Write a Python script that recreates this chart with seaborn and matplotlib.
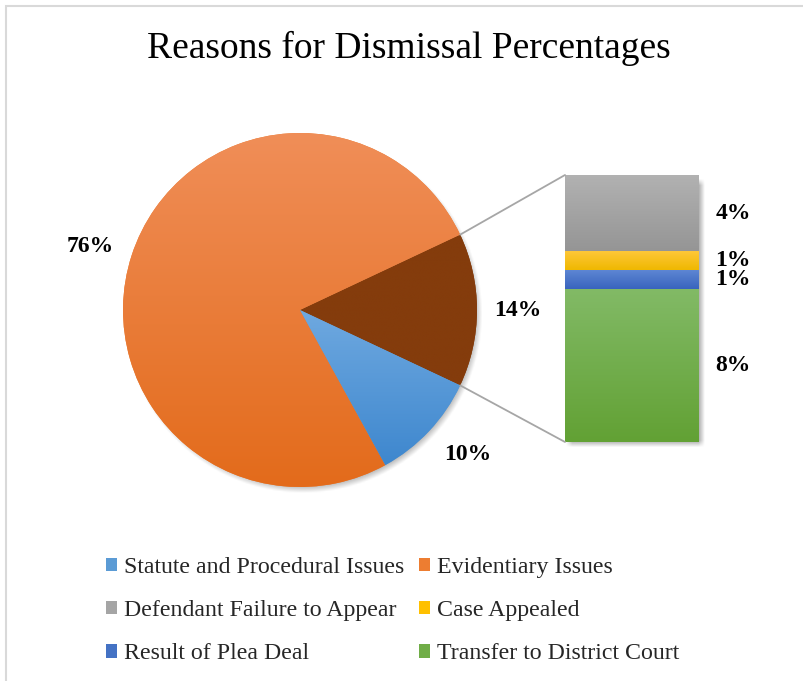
import numpy as np
import pandas as pd
import matplotlib
matplotlib.use("Agg")
import matplotlib.pyplot as plt
import seaborn as sns
from matplotlib.patches import Patch, Rectangle, ConnectionPatch
from matplotlib.colors import to_rgb

# ---- data -------------------------------------------------------------
title = "Reasons for Dismissal Percentages"

# Main pie (the first slice is broken out into the stacked bar)
pie_categories = ["Other Reasons", "Evidentiary Issues", "Statute and Procedural Issues"]
pie_values = [14, 76, 10]

# Breakdown of the "Other Reasons" slice, stacked bottom to top
bar_categories = ["Transfer to District Court", "Result of Plea Deal",
                  "Case Appealed", "Defendant Failure to Appear"]
bar_values = [8, 1, 1, 4]

legend_order = ["Statute and Procedural Issues", "Evidentiary Issues",
                "Defendant Failure to Appear", "Case Appealed",
                "Result of Plea Deal", "Transfer to District Court"]

# ---- style ------------------------------------------------------------
# (base, gradient top, gradient bottom)
colors = {
    "Statute and Procedural Issues": ("#5B9BD5", "#6FA9E0", "#3E87CE"),
    "Evidentiary Issues": ("#ED7D31", "#F08E58", "#E36B1B"),
    "Other Reasons": ("#843C0C", "#843C0C", "#843C0C"),
    "Defendant Failure to Appear": ("#A5A5A5", "#B2B2B2", "#959595"),
    "Case Appealed": ("#FFC000", "#FFC83C", "#EFB800"),
    "Result of Plea Deal": ("#4472C4", "#5F88D4", "#3964BE"),
    "Transfer to District Court": ("#70AD47", "#82BA66", "#62A134"),
}

# label anchor points around the pie, in pie radius units
pie_label_pos = {
    "Other Reasons": (1.23, 0.0),
    "Evidentiary Issues": (-1.186, 0.356),
    "Statute and Procedural Issues": (0.949, -0.819),
}

sns.set_theme(style="white")
plt.rcParams["font.family"] = ["Liberation Serif", "DejaVu Serif"]

W, H = 804, 681
fig = plt.figure(figsize=(W / 100, H / 100), dpi=100)
fig.patch.set_facecolor("white")


def box(left, top, right, bottom):
    """Figure-fraction rectangle from pixel edges."""
    return [left / W, 1 - bottom / H, (right - left) / W, (bottom - top) / H]


def gradient(top, bottom, n=256):
    t = np.linspace(0, 1, n)[:, None]
    c0, c1 = np.array(to_rgb(top)), np.array(to_rgb(bottom))
    return (c0 * (1 - t) + c1 * t)[:, None, :]


def soft_shadow(ax, x0, x1, y0, y1, inside, alpha=0.35, n=300):
    xs = np.linspace(x0, x1, n)
    ys = np.linspace(y1, y0, n)
    X, Y = np.meshgrid(xs, ys)
    a = inside(X, Y)
    rgba = np.zeros((n, n, 4))
    rgba[..., 3] = alpha * a
    im = ax.imshow(rgba, extent=[x0, x1, y0, y1], origin="upper",
                   interpolation="bilinear", zorder=0.5, aspect="auto")
    im.set_clip_on(False)
    return im


# ---- frame ------------------------------------------------------------
fig.add_artist(Rectangle((6.5 / W, -0.05), 1.2, 1 - 6.5 / H + 0.05,
                         transform=fig.transFigure, fill=False,
                         edgecolor="#D9D9D9", linewidth=1.5, zorder=0))

# ---- pie --------------------------------------------------------------
ax_pie = fig.add_axes(box(123, 133, 477, 487))
start = -pie_values[0] / sum(pie_values) * 360 / 2
wedges, _, autotexts = ax_pie.pie(
    pie_values,
    colors=[colors[c][0] for c in pie_categories],
    startangle=start, counterclock=True,
    autopct=lambda p: f"{p:.0f}%", pctdistance=1.24,
    wedgeprops=dict(linewidth=0),
    textprops=dict(fontsize=17, fontweight="bold", color="black"),
)
for t, cat in zip(autotexts, pie_categories):
    t.set_position(pie_label_pos[cat])
    t.set_zorder(6)

for w, cat in zip(wedges, pie_categories):
    ext = w.get_path().get_extents()
    im = ax_pie.imshow(gradient(colors[cat][1], colors[cat][2]),
                       extent=[ext.x0, ext.x1, ext.y0, ext.y1],
                       origin="upper", interpolation="bilinear",
                       aspect="auto", zorder=2)
    im.set_clip_path(w)

soft_shadow(ax_pie, -1.2, 1.2, -1.2, 1.2,
            lambda X, Y: np.clip((1.015 - np.hypot(X - 0.015, Y + 0.025)) / 0.06, 0, 1),
            alpha=0.4)
ax_pie.set_xlim(-1, 1)
ax_pie.set_ylim(-1, 1)
ax_pie.set_aspect("equal")
ax_pie.set_axis_off()

# ---- stacked bar ------------------------------------------------------
df = pd.DataFrame({"reason": bar_categories, "value": bar_values})
df["top"] = df["value"].cumsum()
df["bottom"] = df["top"] - df["value"]
df["group"] = "Other Reasons"

ax_bar = fig.add_axes(box(565, 175, 699, 442))
draw_order = list(reversed(bar_categories))
sns.barplot(data=df, x="group", y="top", hue="reason", hue_order=draw_order,
            palette={c: colors[c][0] for c in bar_categories},
            dodge=False, width=1.0, saturation=1, errorbar=None,
            legend=False, linewidth=0, ax=ax_bar)

seg = df.set_index("reason")
for patch, cat in zip(ax_bar.patches, draw_order):
    x0 = patch.get_x()
    x1 = x0 + patch.get_width()
    im = ax_bar.imshow(gradient(colors[cat][1], colors[cat][2]),
                       extent=[x0, x1, seg.loc[cat, "bottom"], seg.loc[cat, "top"]],
                       origin="upper", interpolation="bilinear",
                       aspect="auto", zorder=3)
    im.set_clip_path(patch)

total = df["value"].sum()
soft_shadow(ax_bar, -0.6, 0.65, -1.0, total + 0.6,
            lambda X, Y: np.clip((0.52 - np.abs(X - 0.02)) / 0.05, 0, 1)
            * np.clip((total / 2 + 0.05 - np.abs(Y - total / 2 + 0.25)) / 0.35, 0, 1))

for _, r in df.iterrows():
    ax_bar.text(0.754, (r["bottom"] + r["top"]) / 2, f"{r['value']}%",
                ha="center", va="center", fontsize=17, fontweight="bold",
                color="black", zorder=6)

ax_bar.set_xlim(-0.5, 0.5)
ax_bar.set_ylim(0, total)
ax_bar.set_axis_off()

# ---- connector lines --------------------------------------------------
half = np.deg2rad(-start)
for ang, yb in [(half, total), (-half, 0)]:
    fig.add_artist(ConnectionPatch(
        xyA=(np.cos(ang), np.sin(ang)), coordsA=ax_pie.transData,
        xyB=(-0.5, yb), coordsB=ax_bar.transData,
        color="#A6A6A6", linewidth=1.3, zorder=1))

# ---- title ------------------------------------------------------------
fig.text(409 / W, 1 - 48 / H, title, ha="center", va="center",
         fontsize=27, color="black")

# ---- legend (two columns, three rows) ---------------------------------
def legend_column(items, left):
    handles = [Patch(facecolor=colors[c][0], edgecolor="none") for c in items]
    fig.legend(handles, items, loc="upper left",
               bbox_to_anchor=(left / W, 1 - 557 / H),
               frameon=False, fontsize=17.2, borderpad=0, borderaxespad=0,
               handlelength=0.47, handleheight=0.47, handletextpad=0.3,
               labelspacing=0.93)


legend_column(legend_order[0::2], 106)
legend_column(legend_order[1::2], 419)

fig.savefig("out.png", dpi=100, facecolor="white")
